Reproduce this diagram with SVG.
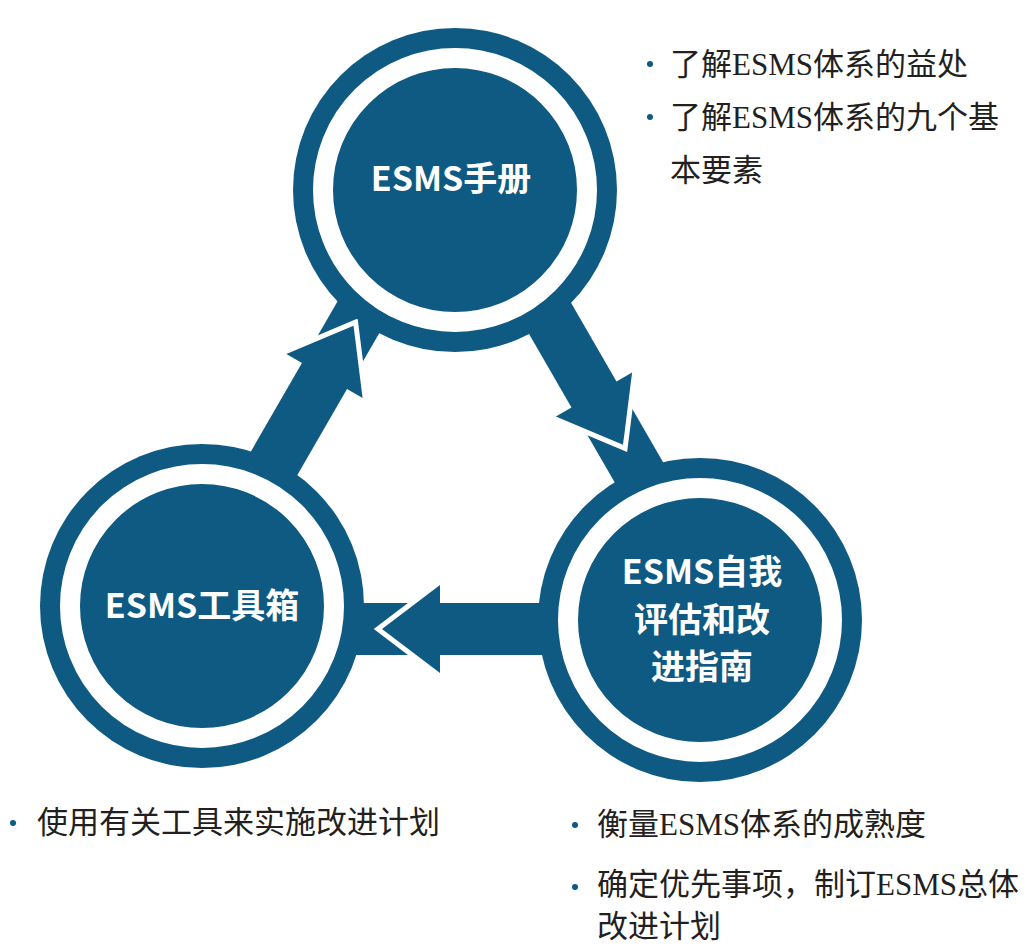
<svg xmlns="http://www.w3.org/2000/svg" xmlns:xlink="http://www.w3.org/1999/xlink" width="1029" height="946" viewBox="0 0 1029 946">
  <style>
    .dark { fill: #0e5a82; }
    .ring { fill: #0e5a82; stroke: #ffffff; stroke-width: 20; }
    .label { font-family: "Noto Sans CJK SC", "Noto Sans", sans-serif; font-weight: 700; font-size: 34px; fill: #ffffff; text-anchor: middle; }
    .note { font-family: "Liberation Serif", "Noto Sans CJK SC", serif; font-size: 31px; fill: #231f20; }
    .bullet { fill: #0e5a82; }
  </style>
  <defs>
    <g id="head">
      <polyline points="-58,-44 0,0 -58,44" fill="none" stroke="#ffffff" stroke-width="10" stroke-linejoin="miter"/>
      <polygon points="0,0 -58,-44 -58,44" class="dark"/>
    </g>
  </defs>
  <rect x="0" y="0" width="1029" height="946" fill="#ffffff"/>

  <g id="connectors">
    <g id="arrow-toolbox-to-manual" transform="translate(276,460) rotate(-60)">
      <rect x="-200" y="-26" width="520" height="52" class="dark"/>
      <use xlink:href="#head" href="#head" transform="translate(155,0)"/>
    </g>
    <g id="arrow-manual-to-guide" transform="translate(547.5,314) rotate(60)">
      <rect x="-160" y="-26" width="520" height="52" class="dark"/>
      <use xlink:href="#head" href="#head" transform="translate(151,0)"/>
    </g>
    <g id="arrow-guide-to-toolbox" transform="translate(382,629) rotate(180)">
      <rect x="-240" y="-26" width="320" height="52" class="dark"/>
      <use xlink:href="#head" href="#head"/>
    </g>
  </g>

  <g id="node-manual">
    <circle cx="455" cy="190" r="162" class="dark"/>
    <circle cx="455" cy="190" r="132" class="ring"/>
    <text x="451" y="191" class="label">ESMS手册</text>
  </g>

  <g id="node-toolbox">
    <circle cx="202" cy="606" r="162" class="dark"/>
    <circle cx="202" cy="606" r="132" class="ring"/>
    <text x="202" y="618" class="label">ESMS工具箱</text>
  </g>

  <g id="node-guide">
    <circle cx="700" cy="620" r="162" class="dark"/>
    <circle cx="700" cy="620" r="132" class="ring"/>
    <text x="702" y="584" class="label">ESMS自我</text>
    <text x="702" y="632" class="label">评估和改</text>
    <text x="702" y="679" class="label">进指南</text>
  </g>

  <g id="notes-manual">
    <circle cx="650" cy="64" r="3" class="bullet"/>
    <text x="670" y="75" class="note">了解ESMS体系的益处</text>
    <circle cx="650" cy="117" r="3" class="bullet"/>
    <text x="670" y="128" class="note">了解ESMS体系的九个基</text>
    <text x="670" y="181" class="note">本要素</text>
  </g>

  <g id="notes-toolbox">
    <circle cx="13" cy="823" r="3" class="bullet"/>
    <text x="37" y="833" class="note">使用有关工具来实施改进计划</text>
  </g>

  <g id="notes-guide">
    <circle cx="575" cy="825" r="3" class="bullet"/>
    <text x="597" y="835" class="note">衡量ESMS体系的成熟度</text>
    <circle cx="575" cy="887" r="3" class="bullet"/>
    <text x="597" y="895" class="note">确定优先事项，制订ESMS总体</text>
    <text x="597" y="937" class="note">改进计划</text>
  </g>
</svg>
